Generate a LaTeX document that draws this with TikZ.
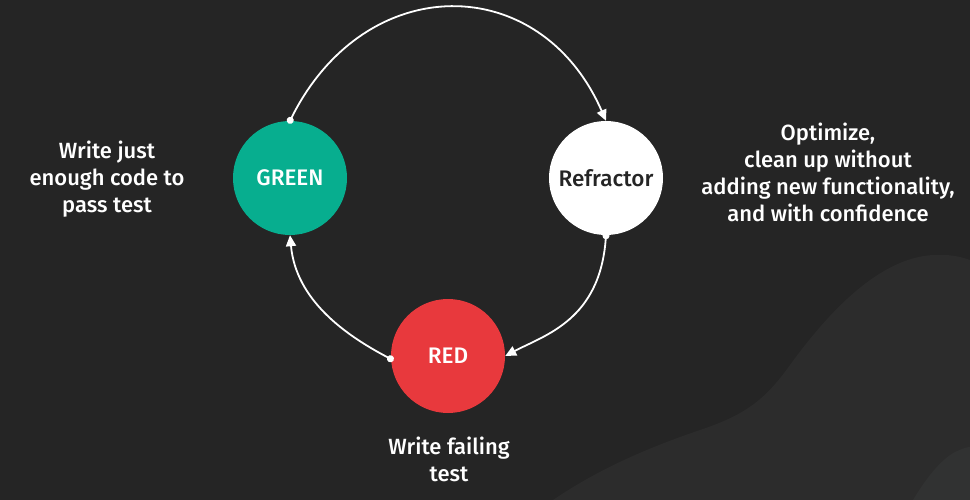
\documentclass[tikz,border=0pt]{standalone}
\usepackage{fontspec}
\setmainfont{Fira Sans}[UprightFont={* Medium}]
\usetikzlibrary{arrows.meta}
\definecolor{bgc}{HTML}{252525}
\definecolor{wave1}{HTML}{2C2C2C}
\definecolor{wave2}{HTML}{313232}
\definecolor{grn}{HTML}{07AE8F}
\definecolor{rd}{HTML}{E8393D}
\tikzset{
  phase/.style={circle, minimum size=114pt, inner sep=0pt, font=\fontsize{22.5}{25}\selectfont},
  note/.style={align=center, text=white, font=\fontsize{22}{27}\selectfont},
  flow/.style={draw=white, line width=1.8pt, {Circle[length=7pt]}-{Triangle[length=11pt,width=10pt]}, shorten <=-3pt}
}
\begin{document}
\begin{tikzpicture}[x=1pt,y=-1pt]
\fill[bgc] (0,0) rectangle (970,500);
\useasboundingbox (0,0) rectangle (970,500);
\fill[wave1] (553,500) .. controls (600,468) and (650,447) .. (700,430)
  .. controls (745,415) and (765,400) .. (790,365)
  .. controls (830,310) and (880,258) .. (933,255)
  .. controls (950,254) and (962,257) .. (970,260) -- (970,500) -- cycle;
\fill[wave2] (913,500) .. controls (925,480) and (940,460) .. (955,452)
  .. controls (962,449) and (966,447) .. (970,447) -- (970,500) -- cycle;

\node[phase, fill=grn, text=white] (green) at (290,178) {GREEN};
\node[phase, fill=white, text=bgc] (refr) at (606,178) {Refractor};
\node[phase, fill=rd, text=white] (red) at (448,356) {RED};

\draw[flow] (green.90) .. controls (365,-30) and (540,-30) .. (refr.90);
\draw[flow] (refr.-90) .. controls (600,320) and (545,335) .. (red.0);
\draw[flow] (red.183) .. controls (345,335) and (296,300) .. (green.-90);

\node[note] (tg) at (107,179) {Write just\\enough code to\\pass test};
\node[note] (tr) at (828,172) {Optimize,\\clean up without\\adding new functionality,\\and with confidence};
\node[note] (tb) at (449,459) {Write failing\\test};
\end{tikzpicture}
\end{document}
